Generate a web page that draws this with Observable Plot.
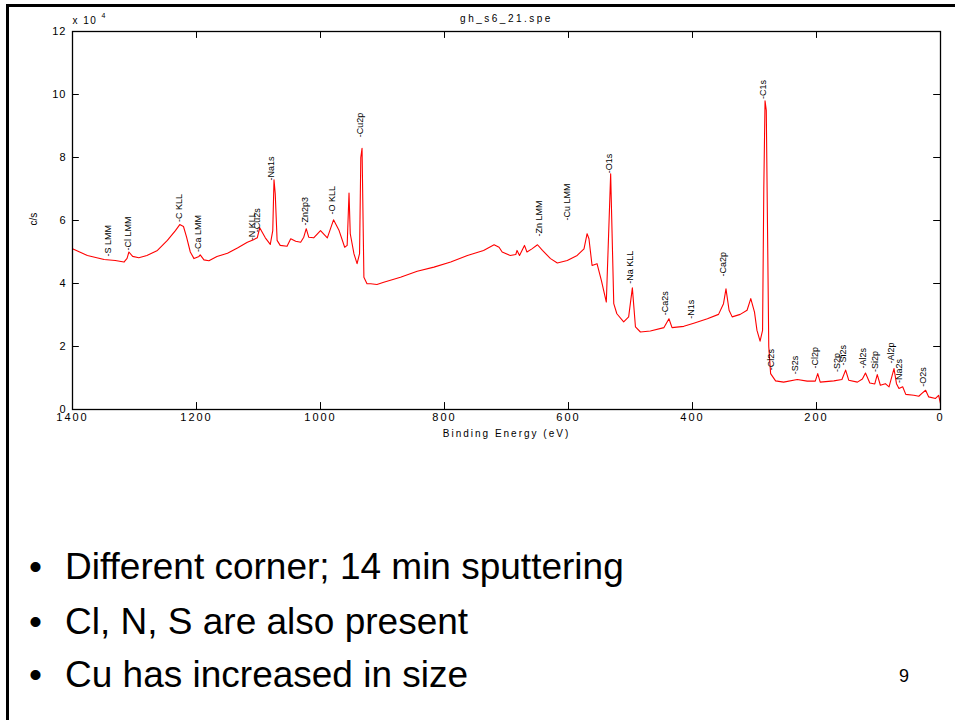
<!DOCTYPE html>
<html>
<head>
<meta charset="utf-8">
<script src="https://cdn.jsdelivr.net/npm/d3@7"></script>
<script src="https://cdn.jsdelivr.net/npm/@observablehq/plot@0.6"></script>
<style>
  body { margin: 0; background: #fff; }
  #page { position: relative; width: 955px; height: 720px; overflow: hidden; background: #fff;
          font-family: "Liberation Sans", Arial, sans-serif; color: #000; }
  #frameL { position: absolute; left: 6px; top: 4px; width: 3px; height: 716px; background: #000; }
  #frameT { position: absolute; left: 6px; top: 4px; width: 949px; height: 3px; background: #000; }
  #chart { position: absolute; left: 0; top: 0; }
  .bullet { position: absolute; left: 29px; font-size: 37px; line-height: 37px; white-space: nowrap; }
  .bullet span.dot { display: inline-block; width: 36px; }
  #pagenum { position: absolute; left: 899px; top: 667px; font-size: 18px; line-height: 18px; }
</style>
</head>
<body>
<div id="page">
  <div id="chart"></div>
  <div id="frameL"></div>
  <div id="frameT"></div>
  <div id="bullets"></div>
  <div id="pagenum"></div>
</div>
<script>
// ---- data ----
const bindingEnergy = [1400,1376,1349,1331,1317,1312,1309,1303,1293,1280,1263,1247,1234,1227,1221,1216,1210,1204,1196,1194,1188,1180,1167,1150,1134,1118,1108,1102,1098,1094,1089,1081,1077,1075,1073,1070,1065,1054,1048,1040,1032,1027,1023,1019,1011,1000,989,979,970,961,957,954,952,946,941,937,935,933,930,925,919,909,898,871,844,817,790,763,737,720,712,707,694,685,683,679,671,667,659,650,642,629,618,602,586,575,570,567,562,554,547,539,532,527,522,511,503,497,492,484,468,446,438,433,414,398,376,358,350,346,341,336,323,312,306,300,296,291,287,285,283,281,277,274,266,253,231,215,202,198,194,172,159,153,148,134,126,121,114,106,102,97,89,83,75,71,67,61,56,43,35,30,24,19,8,3,0];
const counts = [5.10,4.89,4.76,4.73,4.68,4.80,5.00,4.86,4.82,4.89,5.05,5.37,5.68,5.87,5.81,5.47,5.00,4.79,4.86,4.91,4.75,4.72,4.86,4.96,5.13,5.31,5.39,5.45,5.77,5.63,5.45,5.24,5.68,7.29,6.85,5.37,5.21,5.18,5.42,5.34,5.31,5.47,5.74,5.47,5.45,5.68,5.45,6.02,5.68,5.15,5.21,6.87,5.58,4.94,4.63,4.95,8.00,8.29,4.20,3.99,3.99,3.97,4.04,4.20,4.39,4.52,4.68,4.89,5.05,5.23,5.15,5.00,4.89,4.92,5.05,4.89,5.21,5.00,5.10,5.23,5.05,4.79,4.65,4.73,4.89,5.10,5.58,5.42,4.57,4.63,4.10,3.41,7.48,3.36,3.04,2.78,2.94,3.86,2.62,2.46,2.49,2.60,2.88,2.60,2.64,2.74,2.88,3.02,3.36,3.83,3.15,2.94,3.02,3.15,3.52,3.09,2.51,2.17,2.51,7.00,9.80,9.50,2.00,1.14,0.91,0.87,0.95,0.90,0.90,1.14,0.87,0.91,0.95,1.25,0.93,0.87,0.97,1.16,0.84,0.81,1.11,0.77,0.82,0.72,1.30,0.82,0.67,0.72,0.48,0.45,0.42,0.51,0.61,0.40,0.35,0.45,0.19];

const peakNames = ["-S LMM","-Cl LMM","-C KLL","-Ca LMM","-N KLL","-Cu2s","-Na1s","-Zn2p3","-O KLL","-Cu2p","-Zn LMM","-Cu LMM","-O1s","-Na KLL","-Ca2s","-N1s","-Ca2p","-C1s","-Cl2s","-S2s","-Cl2p","-S2p","-Si2s","-Al2s","-Si2p","-Al2p","-Na2s","-O2s"];
const peakEnergy = [1342,1310,1228,1198,1111,1102,1079,1025,981,936,647,603,534,501,444,402,350,286,273,234,202,166,157,125,106,79,66,28];
const peakLabelLevel = [4.86,5.05,5.95,5.0,5.37,5.63,7.27,5.84,6.19,8.64,5.49,6.0,7.5,3.99,2.99,2.88,4.22,9.86,1.25,1.12,1.30,1.19,1.40,1.30,1.19,1.46,0.84,0.72];

const xTicks = [1400,1200,1000,800,600,400,200,0];
const yTicks = [0,2,4,6,8,10,12];

const chartTitle = "gh_s6_21.spe";
const xLabel = "Binding Energy (eV)";
const yLabel = "c/s";
const yMultiplier = "x 10";
const yExponent = "4";

const bulletLines = ["Different corner; 14 min sputtering", "Cl, N, S are also present", "Cu has increased in size"];
const pageNumber = "9";

// ---- build tables ----
const spectrum = bindingEnergy.map((be, i) => ({be, cps: counts[i]}));
const peaks = peakNames.map((name, i) => ({name, be: peakEnergy[i], y: peakLabelLevel[i]}));

const tY = 0.22;   // inward tick length in y units
const tX = 11;     // inward tick length in x units

const svg = Plot.plot({
  width: 955,
  height: 445,
  marginLeft: 72,
  marginRight: 15,
  marginTop: 31,
  marginBottom: 36,
  style: {fontFamily: "'Liberation Sans', Arial, sans-serif", fontSize: "11px", color: "#000", background: "#fff"},
  x: {domain: [1400, 0]},
  y: {domain: [0, 12]},
  marks: [
    Plot.line(spectrum, {x: "be", y: "cps", stroke: "#ff0000", strokeWidth: 1.1}),
    Plot.ruleX(xTicks, {x: d => d, y1: 0, y2: tY, stroke: "#000"}),
    Plot.ruleX(xTicks, {x: d => d, y1: 12 - tY, y2: 12, stroke: "#000"}),
    Plot.ruleY(yTicks, {y: d => d, x1: 1400, x2: 1400 - tX, stroke: "#000"}),
    Plot.ruleY(yTicks, {y: d => d, x1: tX, x2: 0, stroke: "#000"}),
    Plot.frame({stroke: "#000", strokeWidth: 1.3}),
    Plot.axisX({ticks: xTicks, tickSize: 0, tickPadding: 4, label: null, fontSize: 11, tickFormat: d => String(d)}),
    Plot.axisY({ticks: yTicks, tickSize: 0, tickPadding: 6, label: null, fontSize: 11, tickFormat: d => String(d)}),
    Plot.text(peaks, {x: "be", y: "y", text: "name", rotate: -90, textAnchor: "start", fontSize: 9, fill: "#000"}),
    Plot.text([chartTitle], {text: d => d, frameAnchor: "top", lineAnchor: "middle", dy: -13, fontSize: 10}),
    Plot.text([xLabel], {text: d => d, frameAnchor: "bottom", lineAnchor: "middle", dy: 24, fontSize: 10}),
    Plot.text([yLabel], {text: d => d, frameAnchor: "left", dx: -39, dy: 5, rotate: -90, fontSize: 10}),
    Plot.text([yMultiplier], {text: d => d, frameAnchor: "top-left", textAnchor: "start", lineAnchor: "middle", dy: -11, fontSize: 10}),
    Plot.text([yExponent], {text: d => d, frameAnchor: "top-left", textAnchor: "start", lineAnchor: "middle", dx: 29, dy: -16, fontSize: 7})
  ]
});

// letter-spaced texts, as in the reference export
const spacing = new Map([[chartTitle, "2.5px"], [xLabel, "2px"], [yMultiplier, "1.5px"]]);
svg.querySelectorAll('[aria-label="x-axis tick label"] text').forEach(t => t.style.letterSpacing = "2px");
svg.querySelectorAll('[aria-label="y-axis tick label"] text').forEach(t => t.style.letterSpacing = "1px");
svg.querySelectorAll("text").forEach(t => {
  const s = spacing.get(t.textContent);
  if (s) t.setAttribute("letter-spacing", s), t.style.letterSpacing = s;
});

document.getElementById("chart").appendChild(svg);

const bulletTops = [548, 603, 656];
const bl = document.getElementById("bullets");
bulletLines.forEach((line, i) => {
  const d = document.createElement("div");
  d.className = "bullet";
  d.style.top = bulletTops[i] + "px";
  d.innerHTML = '<span class="dot">\u2022</span>';
  d.appendChild(document.createTextNode(line));
  bl.appendChild(d);
});
document.getElementById("pagenum").textContent = pageNumber;
</script>
</body>
</html>
